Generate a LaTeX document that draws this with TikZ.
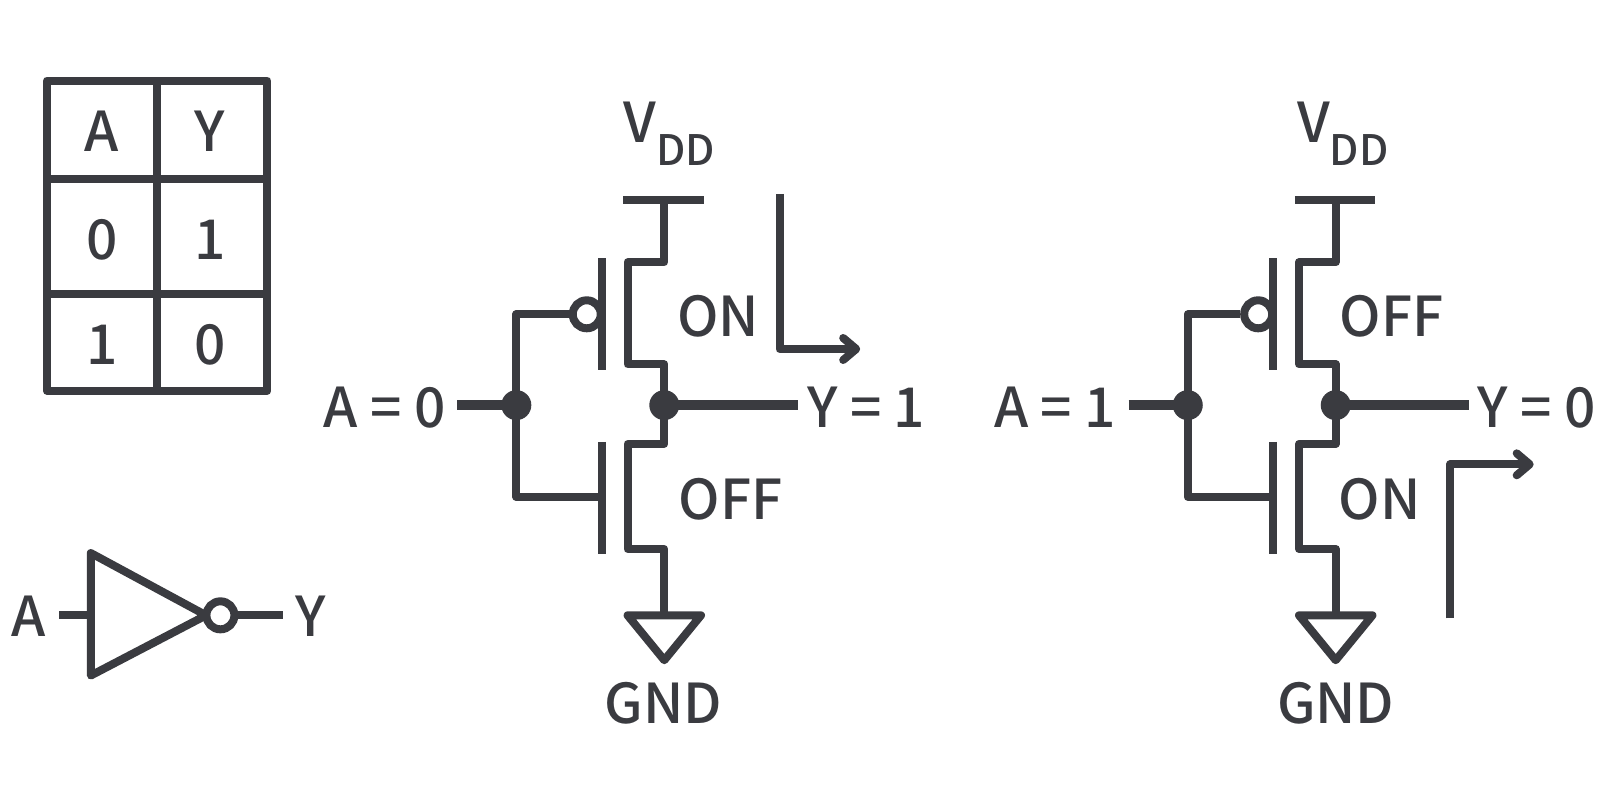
\documentclass[tikz,border=0pt]{standalone}
\usepackage{fontspec}
\setmainfont{Noto Sans CJK JP Medium}
\usetikzlibrary{arrows.meta}
\definecolor{ink}{HTML}{3A3B40}
\begin{document}
\begin{tikzpicture}
        [x=0.5102pt, y=-0.5102pt,
        wire/.style={ink, line width=4pt, line join=round},
        heavy/.style={ink, line width=5.2pt},
        dot/.style={circle, fill=ink, minimum size=15pt, inner sep=0pt},
        bubble/.style={circle, draw=ink, fill=white, line width=4pt, minimum size=14pt, inner sep=0pt},
        flow/.style={wire, -{Straight Barb[length=6.5pt,width=11pt,round]}},
        big/.style={ink, font=\fontsize{27.5}{28}\selectfont, inner sep=0pt},
        small/.style={ink, font=\fontsize{21}{22}\selectfont, inner sep=0pt},
        inner sep=0pt]

        \useasboundingbox (0,0) rectangle (1568,779);

        % truth table
        \draw[wire] (46,79) rectangle (262,383);
        \draw[wire] (154,79) -- (154,383);
        \draw[wire] (46,175) -- (262,175);
        \draw[wire] (46,288) -- (262,288);
        \node[big] (ta) at (100,129) {A};
        \node[big] (ty) at (206,129) {Y};
        \node[big] (t0a) at (100,235) {0};
        \node[big] (t1y) at (206,235) {1};
        \node[big] (t1a) at (100,338) {1};
        \node[big] (t0y) at (206,338) {0};

        % inverter symbol
        \node[big] (ia) at (28,604) {A};
        \node[big] (iy) at (304,604) {Y};
        \coordinate (iin) at (58,603);
        \coordinate (iout) at (277,603);
        \node[bubble] (ib) at (216,603) {};
        \draw[wire] (iin) -- (89,603);
        \draw[wire] (89,542) -- (202,603) -- (89,662) -- cycle;
        \draw[wire] (ib) -- (iout);

        % left circuit, A = 0
        \node[big] (lv) at (627,120) {V};
        \node[small] (ldd) at (672,147) {DD};
        \node[big] (lg) at (650,689) {GND};
        \node[big] (la) at (377,399) {A = 0};
        \node[big] (ly) at (849,399) {Y = 1};
        \node[big] (lon) at (704,310) {ON};
        \node[big] (loff) at (716,489) {OFF};
        \node[dot] (lin) at (506,397) {};
        \node[dot] (lout) at (651,397) {};
        \coordinate (lat) at (448,397);
        \coordinate (lyt) at (782,397);
        \node[bubble] (lb) at (575,308) {};

        \draw[wire] (611,196) -- (690,196);
        \draw[wire] (651,196) -- (651,257) -- (615,257) -- (615,357) -- (651,357) -- (lout.center);
        \draw[wire] (lout.center) -- (651,435) -- (615,435) -- (615,538) -- (651,538) -- (651,603);
        \draw[wire] (590,253) -- (590,363);
        \draw[wire] (590,433) -- (590,543);
        \draw[wire] (lin.center) -- (506,308) -- (lb);
        \draw[wire] (lin.center) -- (506,487) -- (590,487);
        \draw[heavy] (lat) -- (lin.center);
        \draw[heavy] (lout.center) -- (lyt);
        \draw[wire] (615,603) -- (687,603) -- (651,647) -- cycle;
        \draw[flow] (764,190) -- (764,342) -- (843,342);

        % right circuit, A = 1
        \node[big] (rv) at (1288,120) {V};
        \node[small] (rdd) at (1332,147) {DD};
        \node[big] (rg) at (1309,689) {GND};
        \node[big] (ra) at (1034,399) {A = 1};
        \node[big] (ry) at (1506,399) {Y = 0};
        \node[big] (ron) at (1352,489) {ON};
        \node[big] (roff) at (1364,310) {OFF};
        \node[dot] (rin) at (1164,397) {};
        \node[dot] (rout) at (1309,397) {};
        \coordinate (rat) at (1106,397);
        \coordinate (ryt) at (1440,397);
        \node[bubble] (rb) at (1233,308) {};

        \draw[wire] (1269,196) -- (1347,196);
        \draw[wire] (1309,196) -- (1309,257) -- (1273,257) -- (1273,357) -- (1309,357) -- (rout.center);
        \draw[wire] (rout.center) -- (1309,435) -- (1273,435) -- (1273,538) -- (1309,538) -- (1309,603);
        \draw[wire] (1248,253) -- (1248,363);
        \draw[wire] (1248,433) -- (1248,543);
        \draw[wire] (rin.center) -- (1164,308) -- (rb);
        \draw[wire] (rin.center) -- (1164,487) -- (1248,487);
        \draw[heavy] (rat) -- (rin.center);
        \draw[heavy] (rout.center) -- (ryt);
        \draw[wire] (1273,603) -- (1345,603) -- (1309,647) -- cycle;
        \draw[flow] (1421,606) -- (1421,455) -- (1503,455);
    \end{tikzpicture}
\end{document}
